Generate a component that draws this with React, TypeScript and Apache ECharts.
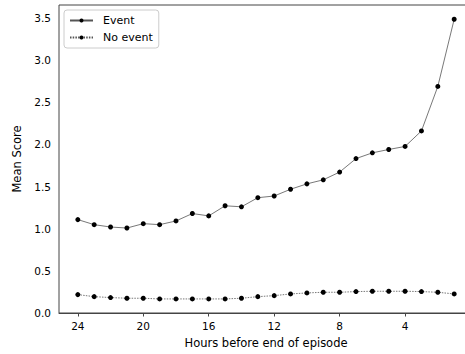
import React, { useEffect, useRef } from "react";
import * as echarts from "echarts";

const hours = [24, 23, 22, 21, 20, 19, 18, 17, 16, 15, 14, 13, 12, 11, 10, 9, 8, 7, 6, 5, 4, 3, 2, 1];
const eventValues = [1.108, 1.048, 1.02, 1.008, 1.06, 1.048, 1.092, 1.18, 1.152, 1.272, 1.26, 1.368, 1.388, 1.468, 1.532, 1.58, 1.672, 1.832, 1.9, 1.94, 1.976, 2.16, 2.688, 3.485];
const noEventValues = [0.218, 0.194, 0.183, 0.175, 0.175, 0.167, 0.167, 0.167, 0.167, 0.167, 0.175, 0.194, 0.206, 0.226, 0.238, 0.246, 0.246, 0.254, 0.258, 0.258, 0.258, 0.254, 0.246, 0.226];
const xTicks = [24, 20, 16, 12, 8, 4];
const yTicks = [0, 0.5, 1.0, 1.5, 2.0, 2.5, 3.0, 3.5];
const seriesNames = ["Event", "No event"];
const xLabel = "Hours before end of episode";
const yLabel = "Mean Score";

const FONT = "DejaVu Sans";
const AXIS_COLOR = "#444";

export default function App() {
  const ref = useRef<HTMLDivElement>(null);
  useEffect(() => {
    if (!ref.current) return;
    const chart = echarts.init(ref.current, undefined, { renderer: "svg" });
    const ev = hours.map((h, i) => [h, eventValues[i]]);
    const ne = hours.map((h, i) => [h, noEventValues[i]]);
    chart.setOption({
      animation: false,
      backgroundColor: "#fff",
      textStyle: { fontFamily: FONT },
      grid: {
        left: 59,
        top: 5,
        width: 414,
        height: 308,
        containLabel: false,
        outerBoundsMode: "none",
        show: true,
        borderColor: AXIS_COLOR,
        borderWidth: 1,
        backgroundColor: "transparent",
      },
      legend: {
        orient: "vertical",
        left: 64,
        top: 10,
        padding: [4, 6, 4, 5],
        itemWidth: 23,
        itemHeight: 5,
        itemGap: 4,
        borderColor: "#ccc",
        borderWidth: 1,
        borderRadius: 3,
        backgroundColor: "#fff",
        textStyle: { fontFamily: FONT, fontSize: 11, color: "#000", padding: [0, 0, 0, 5], lineHeight: 13 },
        data: seriesNames,
      },
      xAxis: {
        type: "value",
        inverse: true,
        min: -0.15,
        max: 25.15,
        name: xLabel,
        nameLocation: "middle",
        nameGap: 24,
        nameTextStyle: { fontFamily: FONT, fontSize: 11.5, color: "#000" },
        axisLine: { show: true, lineStyle: { color: AXIS_COLOR, width: 1 } },
        axisTick: { show: true, length: 3.5, customValues: xTicks, lineStyle: { color: AXIS_COLOR } },
        axisLabel: { customValues: xTicks, fontFamily: FONT, fontSize: 10.5, color: "#000", margin: 7 },
        splitLine: { show: false },
      },
      yAxis: {
        type: "value",
        min: 0,
        max: 3.654,
        name: yLabel,
        nameLocation: "middle",
        nameGap: 32,
        nameTextStyle: { fontFamily: FONT, fontSize: 11.5, color: "#000" },
        axisLine: { show: true, lineStyle: { color: AXIS_COLOR, width: 1 } },
        axisTick: { show: true, length: 3.5, customValues: yTicks, lineStyle: { color: AXIS_COLOR } },
        axisLabel: {
          customValues: yTicks,
          fontFamily: FONT,
          fontSize: 10.5,
          color: "#000",
          margin: 8,
          formatter: (v: number) => v.toFixed(1),
        },
        splitLine: { show: false },
      },
      series: [
        {
          name: seriesNames[0],
          type: "line",
          data: ev,
          symbol: "circle",
          symbolSize: 5,
          itemStyle: { color: "#000" },
          lineStyle: { color: "#555", width: 0.8, type: "solid" },
        },
        {
          name: seriesNames[1],
          type: "line",
          data: ne,
          symbol: "circle",
          symbolSize: 5,
          itemStyle: { color: "#000" },
          lineStyle: { color: "#555", width: 0.8, type: [1.5, 1.2] },
        },
      ],
    });
    return () => chart.dispose();
  }, []);
  return (
    <div style={{ position: "fixed", left: 0, top: 0, width: 465, height: 354, overflow: "hidden", background: "#fff" }}>
      <div ref={ref} style={{ width: 480, height: 354 }} />
    </div>
  );
}
